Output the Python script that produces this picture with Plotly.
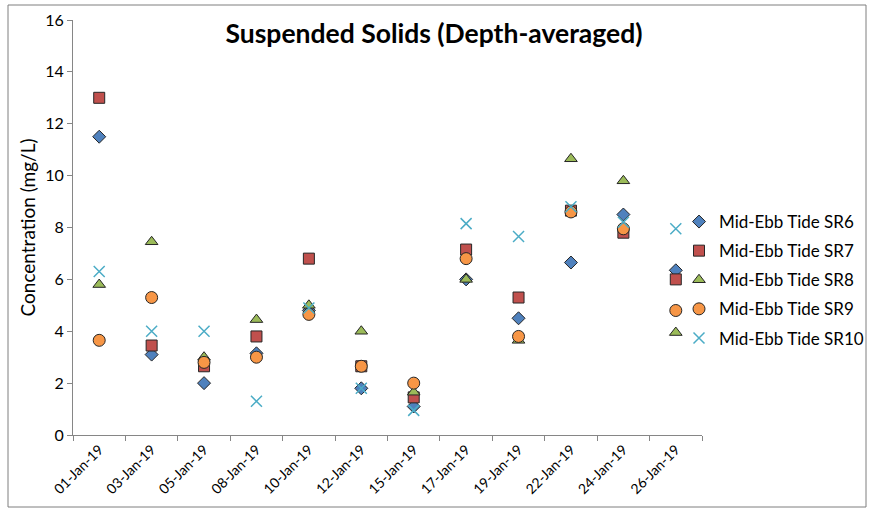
import plotly.graph_objects as go

# Sampling dates (category axis)
dates = ["01-Jan-19", "03-Jan-19", "05-Jan-19", "08-Jan-19", "10-Jan-19", "12-Jan-19",
         "15-Jan-19", "17-Jan-19", "19-Jan-19", "22-Jan-19", "24-Jan-19", "26-Jan-19"]

# Depth-averaged suspended solids (mg/L) per station
sr6 = [11.5, 3.1, 2.0, 3.15, 4.8, 1.8, 1.1, 6.0, 4.5, 6.65, 8.5, 6.35]
sr7 = [13.0, 3.45, 2.65, 3.8, 6.8, 2.65, 1.45, 7.15, 5.3, 8.65, 7.8, 6.0]
sr8 = [5.8, 7.45, 3.0, 4.45, 5.0, 4.0, 1.65, 6.0, 3.65, 10.65, 9.8, 3.95]
sr9 = [3.65, 5.3, 2.8, 3.0, 4.65, 2.65, 2.0, 6.8, 3.8, 8.6, 7.95, 4.8]
sr10 = [6.3, 4.0, 4.0, 1.3, 4.9, 1.8, 0.95, 8.15, 7.65, 8.8, 8.2, 7.95]

names = ["Mid-Ebb Tide SR6", "Mid-Ebb Tide SR7", "Mid-Ebb Tide SR8",
         "Mid-Ebb Tide SR9", "Mid-Ebb Tide SR10"]

FONT = "Lato, 'Open Sans', sans-serif"
OUTLINE = "#262626"

styles = [
    dict(symbol="diamond", size=10, color="#4F81BD", line=dict(color=OUTLINE, width=1)),
    dict(symbol="square", size=11, color="#C0504D", line=dict(color=OUTLINE, width=1)),
    dict(symbol="triangle-up", size=11, color="#9BBB59", line=dict(color=OUTLINE, width=1)),
    dict(symbol="circle", size=12, color="#F79646", line=dict(color=OUTLINE, width=1)),
    dict(symbol="x-thin", size=11, color="#4BACC6", line=dict(color="#4BACC6", width=1.5)),
]

fig = go.Figure()
for i, (name, vals, st) in enumerate(zip(names, [sr6, sr7, sr8, sr9, sr10], styles)):
    fig.add_trace(go.Scatter(
        x=dates, y=vals, mode="markers", name=name,
        legendgroup=f"g{i}", marker=st,
    ))

W, H = 871, 513
L, R, T, B = 73, 169, 20, 78
pw, ph = W - L - R, H - T - B

def px_x(p):
    return (p - L) / pw

def px_y(p):
    return (H - B - p) / ph

fig.update_layout(
    width=W, height=H,
    margin=dict(l=L, r=R, t=T, b=B, autoexpand=False),
    paper_bgcolor="white", plot_bgcolor="white",
    font=dict(family=FONT, size=15, color="#000000"),
    title=dict(text="<b>Suspended Solids (Depth-averaged)</b>",
               x=px_x(434), xref="paper", xanchor="center",
               y=1 - 34 / H, yref="container", yanchor="middle",
               font=dict(family=FONT, size=26.5, color="#000000")),
    showlegend=True,
    legend=dict(x=px_x(679), y=px_y(204), xanchor="left", yanchor="top",
                xref="paper", yref="paper",
                traceorder="grouped", tracegroupgap=4,
                font=dict(family=FONT, size=17, color="#000000"),
                bgcolor="rgba(0,0,0,0)"),
    xaxis=dict(type="category", range=[-0.5, 11.5], tickson="boundaries",
               ticks="outside", ticklen=5, tickcolor="#868686",
               showline=True, linecolor="#868686", linewidth=1,
               showgrid=False, zeroline=False, tickangle=-45,
               tickfont=dict(family=FONT, size=14)),
    yaxis=dict(range=[0, 16], dtick=2, ticks="outside", ticklen=5,
               tickcolor="#868686", showline=True, linecolor="#868686",
               linewidth=1, showgrid=False, zeroline=False,
               tickfont=dict(family=FONT, size=16),
               title=dict(text="Concentration (mg/L)", standoff=4,
                          font=dict(family=FONT, size=19))),
    shapes=[dict(type="rect", xref="paper", yref="paper",
                 x0=px_x(8), x1=px_x(866), y0=px_y(507), y1=px_y(5),
                 line=dict(color="#7f7f7f", width=1), fillcolor="rgba(0,0,0,0)",
                 layer="below")],
)

fig.write_html("out.html")
